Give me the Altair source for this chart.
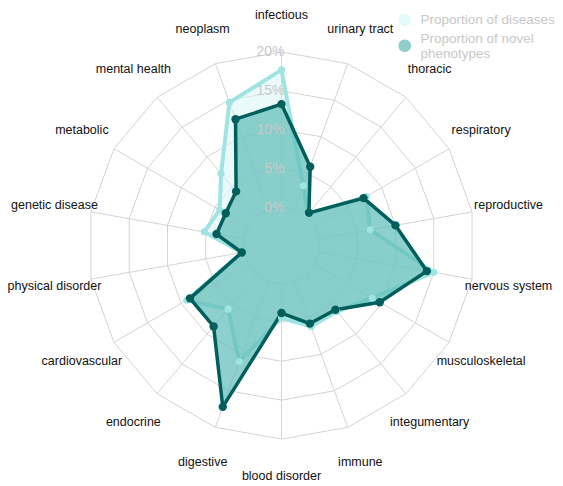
import altair as alt
import pandas as pd

categories = ["infectious", "urinary tract", "thoracic", "respiratory", "reproductive",
              "nervous system", "musculoskeletal", "integumentary", "immune", "blood disorder",
              "digestive", "endocrine", "cardiovascular", "physical disorder", "genetic disease",
              "metabolic", "mental health", "neoplasm"]
diseases = [17.7, 3.3, 0.4, 7.7, 6.7, 15.0, 8.6, 6.2, 6.2, 4.4, 11.0, 5.8, 9.2, 0.3, 5.2, 4.3, 7.2, 14.7]
novel = [13.3, 5.9, 0.6, 7.3, 10.0, 14.1, 9.7, 5.9, 5.8, 3.8, 17.2, 8.7, 8.7, 0.3, 3.6, 3.4, 4.2, 12.4]
tick_levels = [0, 5, 10, 15, 20]
tick_labels = ["0%", "5%", "10%", "15%", "20%"]
series_names = ["Proportion of diseases", "Proportion of novel phenotypes"]

N = len(categories)
PX = 7.775              # pixels per % unit
INNER = 38 / PX         # radius of the 0% ring, in % units
LABEL_RX = 230.5 / PX   # category label radius (horizontal)
LABEL_RY = 230.5 / PX   # category label radius (vertical)
W, H = 547, 475
XD = W / 2 / PX
YD = H / 2 / PX

FONT = "Liberation Sans"

values_df = pd.DataFrame({
    "category": categories * 2,
    "idx": list(range(N)) * 2,
    "series": [series_names[0]] * N + [series_names[1]] * N,
    "value": diseases + novel,
})
ring_df = pd.DataFrame([{"level": lv, "idx": i} for lv in tick_levels[1:] for i in range(N)])
spoke_df = pd.DataFrame({"idx": list(range(N))})
label_df = pd.DataFrame({"idx": list(range(N)), "category": categories})
tick_df = pd.DataFrame({"level": tick_levels, "label": tick_labels})

xs = alt.Scale(domain=[-XD, XD], nice=False, zero=False)
ys = alt.Scale(domain=[-YD, YD], nice=False, zero=False)
X = alt.X("x:Q", scale=xs, axis=None)
Y = alt.Y("y:Q", scale=ys, axis=None)

theta = f"datum.idx * 2 * PI / {N}"


def polar(chart, rexpr):
    return chart.transform_calculate(
        th=theta, r=rexpr
    ).transform_calculate(
        x="datum.r * sin(datum.th)", y="datum.r * cos(datum.th)"
    )


GRID = "#d4d4d4"

rings = polar(alt.Chart(ring_df), f"{INNER} + datum.level").mark_line(
    interpolate="linear-closed", color=GRID, strokeWidth=1
).encode(x=X, y=Y, detail="level:N", order="idx:Q")

inner = alt.Chart(pd.DataFrame({"x": [0.0], "y": [0.0]})).mark_point(
    shape="circle", filled=False, color=GRID, strokeWidth=1, opacity=1,
    size=(2 * INNER * PX) ** 2
).encode(x=X, y=Y)

spokes = alt.Chart(spoke_df).transform_calculate(
    th=theta
).transform_calculate(
    x=f"{INNER} * sin(datum.th)", y=f"{INNER} * cos(datum.th)",
    x2=f"{INNER + 20} * sin(datum.th)", y2=f"{INNER + 20} * cos(datum.th)"
).mark_rule(color=GRID, strokeWidth=1).encode(x=X, y=Y, x2="x2:Q", y2="y2:Q")

base = polar(alt.Chart(values_df), f"{INNER} + datum.value")

LIGHT_LINE = "#9fe4e2"
DARK_LINE = "#005f5c"

light_poly = base.transform_filter(f"datum.series == '{series_names[0]}'").mark_line(
    interpolate="linear-closed", fill="#d6f6f6", fillOpacity=0.5,
    stroke=LIGHT_LINE, strokeWidth=4, strokeJoin="round"
).encode(x=X, y=Y, order="idx:Q")

dark_poly = base.transform_filter(f"datum.series == '{series_names[1]}'").mark_line(
    interpolate="linear-closed", fill="#5ebcb8", fillOpacity=0.7,
    stroke=DARK_LINE, strokeWidth=3.5, strokeJoin="round"
).encode(x=X, y=Y, order="idx:Q")

light_pts = base.transform_filter(f"datum.series == '{series_names[0]}'").mark_point(
    filled=True, shape="circle", color=LIGHT_LINE, size=50, opacity=1
).encode(x=X, y=Y)

dark_pts = base.transform_filter(f"datum.series == '{series_names[1]}'").mark_point(
    filled=True, shape="circle", color=DARK_LINE, size=70, opacity=1
).encode(x=X, y=Y)

legend_spec = alt.Legend(
    title=None, orient="none", legendX=390, legendY=5, padding=0,
    labelFont=FONT, labelFontSize=13.5, labelColor="#c8c8c8",
    symbolSize=160, symbolStrokeWidth=0,
    symbolOpacity=1, labelOffset=9, rowPadding=4,
    labelLimit=300,
    labelExpr=f"datum.label == '{series_names[1]}' ? ['Proportion of novel', '    phenotypes'] : datum.label",
)

legend_layer = alt.Chart(values_df).transform_filter("false").transform_calculate(
    x="0", y="0"
).mark_point(filled=True, opacity=1).encode(
    x=X, y=Y,
    fill=alt.Fill("series:N", scale=alt.Scale(domain=series_names, range=["#e4fafa", "#8ecfcc"]),
                  legend=legend_spec),
    shape=alt.Shape("series:N", scale=alt.Scale(
        domain=series_names,
        range=["circle", "M-1,1.1A1,1,0,1,1,1,1.1A1,1,0,1,1,-1,1.1Z"]),
        legend=legend_spec),
)

cat_labels = alt.Chart(label_df).transform_calculate(
    th=theta
).transform_calculate(
    x=f"{LABEL_RX} * sin(datum.th)", y=f"{LABEL_RY} * cos(datum.th)"
).mark_text(
    font=FONT, fontSize=12.5, color="#111111", align="center", baseline="middle"
).encode(x=X, y=Y, text="category:N")

ticks = alt.Chart(tick_df).transform_calculate(
    x="0", y=f"{INNER} + datum.level"
).mark_text(
    font=FONT, fontSize=14, color="#c8c8c8", align="right", baseline="middle", dx=3
).encode(x=X, y=Y, text="label:N")

chart = alt.layer(
    rings, inner, spokes, light_poly, dark_poly, light_pts, dark_pts,
    legend_layer, cat_labels, ticks
).properties(
    width=W, height=H, padding=0,
    autosize=alt.AutoSizeParams(type="none")
).configure_view(stroke=None)

chart.save("out.html", embed_options={"renderer": "svg", "actions": False})
